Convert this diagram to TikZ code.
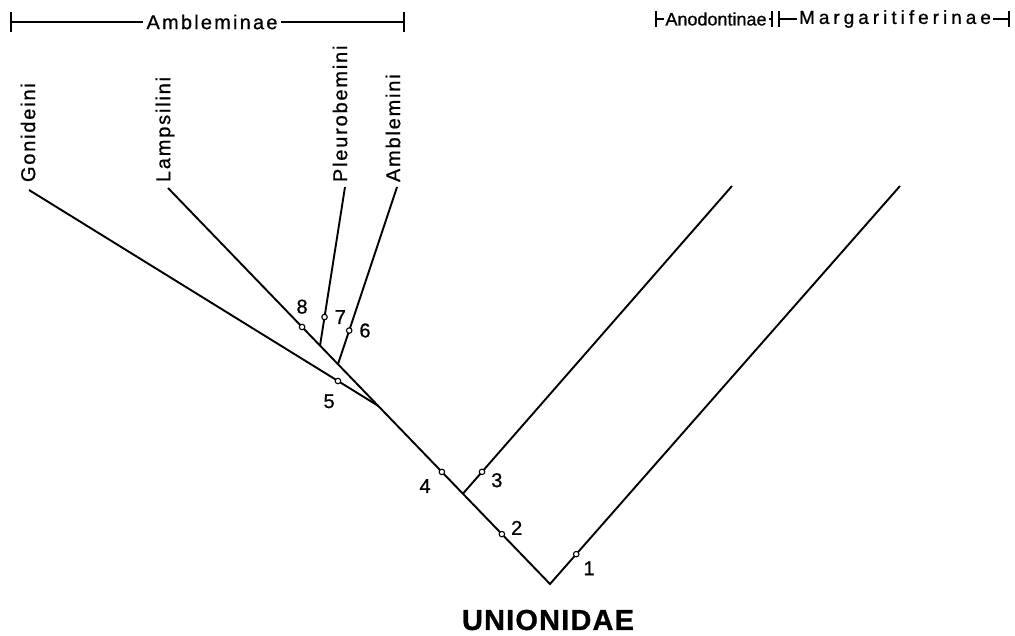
\documentclass[tikz,border=0pt]{standalone}
\usepackage{fontspec}
\setmainfont{Liberation Sans}[FakeBold=0.8]
\usetikzlibrary{positioning,calc,arrows.meta}
\tikzset{
  apo/.style={circle, draw, fill=white, inner sep=0pt, minimum size=5.5pt, line width=1.1pt},
  num/.style={inner sep=1pt, font=\fontsize{20}{20}\selectfont},
  taxon/.style={rotate=90, anchor=west, inner sep=0pt, font=\fontsize{20}{20}\selectfont\addfontfeatures{LetterSpace=9}},
  header/.style={inner sep=3pt, font=\fontsize{20}{20}\selectfont},
  bracket/.style={line width=1.2pt}
}
\begin{document}
\begin{tikzpicture}[x=1pt, y=-1pt, line width=1.9pt]
\useasboundingbox (0,0) rectangle (1015,636);
\coordinate (root) at (550,584);
\coordinate (tMar) at (900,186);
\coordinate (tAno) at (732,186);
\coordinate (tLam) at (168,188);
\coordinate (tGon) at (29,190);
\coordinate (tPle) at (345,187);
\coordinate (tAmb) at (397,187);
\coordinate (jAno) at ($(root)!0.228!(tLam)$);
\coordinate (jGon) at ($(root)!0.45!(tLam)$);
\coordinate (jAmb) at ($(root)!0.555!(tLam)$);
\coordinate (jPle) at ($(root)!0.602!(tLam)$);
\draw (tMar) -- (root) -- (tLam);
\draw (jAno) -- (tAno);
\draw (jGon) -- (tGon);
\draw (jAmb) -- (tAmb);
\draw (jPle) -- (tPle);
\node[apo] (m1) at ($(root)!0.075!(tMar)$) {};
\node[apo] (m2) at ($(root)!0.126!(tLam)$) {};
\node[apo] (m3) at ($(jAno)!0.071!(tAno)$) {};
\node[apo] (m4) at ($(root)!0.283!(tLam)$) {};
\node[apo] (m5) at ($(jGon)!0.115!(tGon)$) {};
\node[apo] (m6) at ($(jAmb)!0.19!(tAmb)$) {};
\node[apo] (m7) at ($(jPle)!0.18!(tPle)$) {};
\node[apo] (m8) at ($(root)!0.649!(tLam)$) {};
\node[num, below right=3pt and 3pt of m1] (n1) {1};
\node[num, above right=-5pt and 5pt of m2] (n2) {2};
\node[num, below right=-3pt and 5pt of m3] (n3) {3};
\node[num, below left=3pt and 7pt of m4] (n4) {4};
\node[num, below left=9pt and -1pt of m5] (n5) {5};
\node[num, right=5pt of m6] (n6) {6};
\node[num, right=5pt of m7] (n7) {7};
\node[num, above=8pt of m8] (n8) {8};
\node[taxon] (lGon) at (28,183) {Gonideini};
\node[taxon] (lLam) at (165,183) {Lampsilini};
\node[taxon] (lPle) at (340,183) {Pleurobemini};
\node[taxon] (lAmb) at (393,183) {Amblemini};
\node[header, font=\fontsize{20}{20}\selectfont\addfontfeatures{LetterSpace=11}] (hAmb) at (212,22) {Ambleminae};
\coordinate (aL) at (10,22);
\coordinate (aR) at (405,22);
\draw[bracket, {Bar[width=20pt, line width=1.6pt]}-] (aL) -- (hAmb.west);
\draw[bracket, -{Bar[width=20pt, line width=1.6pt]}] (hAmb.east) -- (aR);
\node[header, inner sep=1pt, font=\fontsize{18}{18}\selectfont] (hAno) at (716,19) {Anodontinae};
\coordinate (bL) at (655,19);
\coordinate (bR) at (773,19);
\draw[bracket, {Bar[width=16pt, line width=1.6pt]}-] (bL) -- (hAno.west);
\draw[bracket, -{Bar[width=16pt, line width=1.6pt]}] (hAno.east) -- (bR);
\node[header, inner sep=1pt, font=\fontsize{19}{19}\selectfont\addfontfeatures{LetterSpace=21}] (hMar) at (895,19) {Margaritiferinae};
\coordinate (cL) at (778,19);
\coordinate (cR) at (1010,19);
\draw[bracket, {Bar[width=16pt, line width=1.6pt]}-] (cL) -- (hMar.west);
\draw[bracket, -{Bar[width=16pt, line width=1.6pt]}] (hMar.east) -- (cR);
\node[font=\bfseries\fontsize{29}{29}\selectfont\addfontfeatures{LetterSpace=4}] (fam) at (548,620) {UNIONIDAE};
\end{tikzpicture}
\end{document}
